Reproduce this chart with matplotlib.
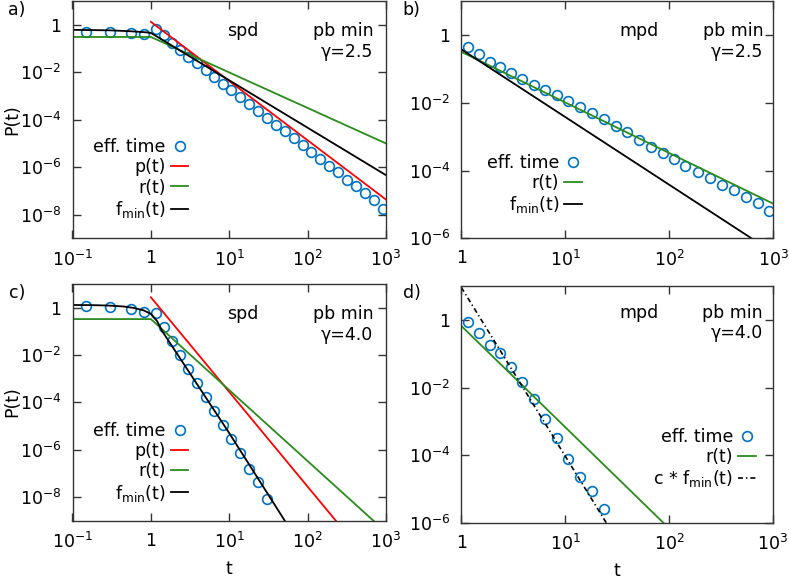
import matplotlib
matplotlib.use("Agg")
import matplotlib.pyplot as plt
from matplotlib.ticker import NullLocator

plt.rcParams['font.family'] = ['DejaVu Sans']
plt.rcParams['font.size'] = 12.5
plt.rcParams['mathtext.default'] = 'regular'

# marker times (log bins)
t_low = [0.15, 0.30, 0.55, 0.82]
t_bins = [1.15, 1.48, 1.87, 2.35, 2.98, 3.86, 4.98, 6.42, 8.3, 10.6, 13.8, 18.0, 23.4, 30.4,
          39.5, 51.0, 66.3, 86.4, 111, 143, 187, 244, 320, 417, 542, 708, 910]

# a) spd, gamma=2.5
eff_a = [0.49, 0.49, 0.46, 0.43,
         0.66, 0.38, 0.18, 0.0886, 0.0463, 0.0244, 0.0127, 6.28e-3, 3.28e-3, 1.83e-3,
         9.03e-4, 4.58e-4, 2.32e-4, 1.18e-4, 6.15e-5, 3.22e-5, 1.69e-5, 8.28e-6, 4.37e-6,
         2.21e-6, 1.16e-6, 6.04e-7, 2.98e-7, 1.56e-7, 8.2e-8, 4.0e-8, 1.79e-8]
p_a_t, p_a = [1, 1000], [1.35, 4.3e-8]
r_a_t, r_a = [0.1, 1, 1000], [0.31, 0.31, 1.0e-5]
f_a_t = [0.1, 0.3, 0.55, 0.85, 1, 1000]
f_a = [0.62, 0.59, 0.54, 0.49, 0.46, 4.6e-7]

# b) mpd, gamma=2.5
eff_b = [0.452, 0.275, 0.160, 0.114, 0.0773, 0.0493, 0.0342, 0.0239, 0.0170, 0.0115,
         7.36e-3, 4.90e-3, 3.26e-3, 2.07e-3, 1.40e-3, 8.0e-4, 5.07e-4, 3.37e-4, 2.15e-4,
         1.37e-4, 9.3e-5, 5.9e-5, 3.76e-5, 2.68e-5, 1.70e-5, 1.08e-5, 6.56e-6]
r_b_t, r_b = [1, 1000], [0.32, 1.05e-5]
f_b_t, f_b = [1, 1000], [0.38, 3.8e-7]

# c) spd, gamma=4.0
eff_c = [1.18, 1.04, 0.88, 0.64,
         0.58, 0.157, 0.039, 0.010, 2.57e-3, 6.38e-4, 1.63e-4, 4.3e-5, 1.10e-5, 2.82e-6,
         7.0e-7, 1.52e-7, 4.17e-8, 8.2e-9]
p_c_t, p_c = [1, 1000], [2.75, 2.75e-12]
r_c_t, r_c = [0.1, 1, 1000], [0.33, 0.33, 3.3e-10]
f_c_t = [0.1, 0.2, 0.3, 0.45, 0.6, 0.8, 1.0, 1.2, 1.4, 10, 100]
f_c = [1.30, 1.27, 1.22, 1.12, 0.98, 0.78, 0.55, 0.27, 0.10, 5.0e-6, 3e-11]

# d) mpd, gamma=4.0
eff_d = [0.85, 0.40, 0.18, 0.109, 0.040, 0.0147, 4.5e-3, 1.15e-3, 3.1e-4, 7.8e-5,
         2.3e-5, 8.3e-6, 2.45e-6]
r_d_t, r_d = [1, 1000], [0.67, 6.7e-10]
cf_d_t, cf_d = [1, 100], [9.3, 9.3e-10]

xt_spd = [0.1, 1, 10, 100, 1000]
xl_spd = ['$10^{-1}$', '1', '$10^{1}$', '$10^{2}$', '$10^{3}$']
xt_mpd = [1, 10, 100, 1000]
xl_mpd = ['1', '$10^{1}$', '$10^{2}$', '$10^{3}$']
yt_spd = [1e-8, 1e-6, 1e-4, 1e-2, 1]
yl_spd = ['$10^{-8}$', '$10^{-6}$', '$10^{-4}$', '$10^{-2}$', '1']
yt_mpd = [1e-6, 1e-4, 1e-2, 1]
yl_mpd = ['$10^{-6}$', '$10^{-4}$', '$10^{-2}$', '1']

blue = '#0072bd'
red = '#ff0000'
green = '#2a8a1e'

W, H = 789, 582
fig = plt.figure(figsize=(W / 100, H / 100), dpi=100)


def make_ax(x0, y0, x1, y1):
    # pixel box -> figure fraction
    return fig.add_axes([x0 / W, 1 - y1 / H, (x1 - x0) / W, (y1 - y0) / H])


def style(ax, xlim, ylim, xt, xl, yt, yl):
    ax.set_xscale('log')
    ax.set_yscale('log')
    ax.set_xlim(*xlim)
    ax.set_ylim(*ylim)
    ax.set_xticks(xt)
    ax.set_xticklabels(xl)
    ax.set_yticks(yt)
    ax.set_yticklabels(yl)
    ax.xaxis.set_minor_locator(NullLocator())
    ax.yaxis.set_minor_locator(NullLocator())
    ax.tick_params(direction='in', length=6, width=1, top=True, right=True,
                   labelsize=12.5, color='#333333')
    ax.tick_params(axis='x', pad=8)
    ax.tick_params(axis='y', pad=8)
    for s in ax.spines.values():
        s.set_color('#333333')
        s.set_linewidth(1)


mk = dict(ls='none', marker='o', ms=7, mfc='none', mec=blue, mew=1.2)
lw = 1.3
leg = dict(frameon=False, markerfirst=False, handlelength=1.0, handletextpad=0.3,
           labelspacing=0.12, borderpad=0, borderaxespad=0, numpoints=1, fontsize=12.5)

# a)
ax = make_ax(72.5, 1.2, 386, 238.3)
ax.plot(t_low + t_bins, eff_a, label='eff. time', **mk)
ax.plot(p_a_t, p_a, color=red, lw=lw, label='p(t)')
ax.plot(r_a_t, r_a, color=green, lw=lw, label='r(t)')
ax.plot(f_a_t, f_a, color='black', lw=lw, label='f$_{min}$(t)')
style(ax, (0.1, 1000), (1e-9, 10), xt_spd, xl_spd, yt_spd, yl_spd)
ax.legend(loc='center right', bbox_to_anchor=(0.369, 0.25), **leg)
ax.text(0.542, 0.874, 'spd', transform=ax.transAxes, ha='center', va='center')
ax.text(0.9595, 0.874, 'pb min', transform=ax.transAxes, ha='right', va='center')
ax.text(0.9595, 0.787, 'γ=2.5', transform=ax.transAxes, ha='right', va='center')

# b)
ax = make_ax(461.3, 1.2, 773.3, 238.3)
ax.plot(t_bins, eff_b, label='eff. time', **mk)
ax.plot(r_b_t, r_b, color=green, lw=lw, label='r(t)')
ax.plot(f_b_t, f_b, color='black', lw=lw, label='f$_{min}$(t)')
style(ax, (1, 1000), (1e-6, 10), xt_mpd, xl_mpd, yt_mpd, yl_mpd)
ax.legend(loc='center right', bbox_to_anchor=(0.386, 0.226), **leg)
ax.text(0.569, 0.874, 'mpd', transform=ax.transAxes, ha='center', va='center')
ax.text(0.968, 0.874, 'pb min', transform=ax.transAxes, ha='right', va='center')
ax.text(0.968, 0.787, 'γ=2.5', transform=ax.transAxes, ha='right', va='center')

# c)
ax = make_ax(72.5, 284, 386, 520.7)
ax.plot(t_low + t_bins[:14], eff_c, label='eff. time', **mk)
ax.plot(p_c_t, p_c, color=red, lw=lw, label='p(t)')
ax.plot(r_c_t, r_c, color=green, lw=lw, label='r(t)')
ax.plot(f_c_t, f_c, color='black', lw=lw, label='f$_{min}$(t)')
style(ax, (0.1, 1000), (1e-9, 10), xt_spd, xl_spd, yt_spd, yl_spd)
ax.set_xlabel('t', labelpad=6)
ax.legend(loc='center right', bbox_to_anchor=(0.369, 0.244), **leg)
ax.text(0.542, 0.873, 'spd', transform=ax.transAxes, ha='center', va='center')
ax.text(0.9595, 0.873, 'pb min', transform=ax.transAxes, ha='right', va='center')
ax.text(0.9595, 0.785, 'γ=4.0', transform=ax.transAxes, ha='right', va='center')

# d)
ax = make_ax(461.3, 286.3, 773, 522.5)
ax.plot(t_bins[:13], eff_d, label='eff. time', **mk)
ax.plot(r_d_t, r_d, color=green, lw=lw, label='r(t)')
ax.plot(cf_d_t, cf_d, color='black', lw=1.2, ls=(0, (3, 1.8, 0.8, 1.8)),
        label='c * f$_{min}$(t)')
style(ax, (1, 1000), (1e-6, 10), xt_mpd, xl_mpd, yt_mpd, yl_mpd)
ax.set_xlabel('t', labelpad=6)
ax.legend(loc='center right', bbox_to_anchor=(0.945, 0.272), **leg)
ax.text(0.569, 0.886, 'mpd', transform=ax.transAxes, ha='center', va='center')
ax.text(0.968, 0.886, 'pb min', transform=ax.transAxes, ha='right', va='center')
ax.text(0.968, 0.801, 'γ=4.0', transform=ax.transAxes, ha='right', va='center')

for lab, x, y in [('a)', 16.7, 10), ('b)', 411.7, 10), ('c)', 16.7, 293), ('d)', 411.7, 293)]:
    fig.text(x / W, 1 - y / H, lab, ha='center', va='center', fontsize=12.5)

# y labels of the left column
for y in [120, 402]:
    fig.text(12.5 / W, 1 - y / H, 'P(t)', rotation=90, ha='center', va='center', fontsize=12.5)

fig.savefig('out.png', dpi=100)
